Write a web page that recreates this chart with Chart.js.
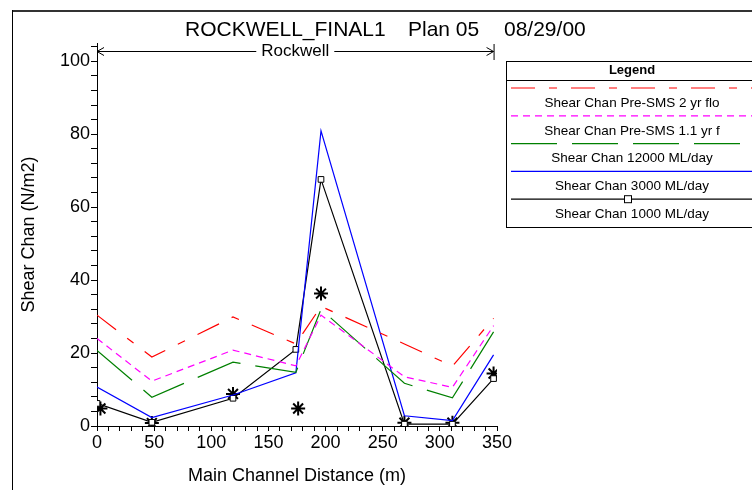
<!DOCTYPE html>
<html>
<head>
<meta charset="utf-8">
<script src="https://cdn.jsdelivr.net/npm/chart.js@4"></script>
<style>
  body { margin: 0; background: #fff; }
  canvas { display: block; }
</style>
</head>
<body>
<canvas id="myChart" width="752" height="490"></canvas>
<script>
// river stations along the main channel (m)
const stations = [0, 48, 119, 174, 196, 269, 311, 347];

const pre2yr = [30.4, 18.9, 29.9, 22.5, 32.8, 22.5, 16.4, 29.5];
const pre11yr = [24.0, 12.3, 20.8, 16.5, 30.4, 13.5, 10.6, 27.5];
const q12000 = [20.7, 7.9, 17.5, 14.7, 32.0, 11.7, 7.7, 25.8];
const q3000 = [10.7, 2.3, 8.5, 14.6, 80.9, 2.8, 1.5, 19.5];
const q1000 = [6.2, 1.0, 7.6, 21.0, 67.6, 0.5, 0.5, 13.0];

// observed points (asterisks)
const obsX = [3, 48, 119, 176, 196, 269, 311, 347];
const obsY = [4.8, 0.8, 8.8, 4.8, 36.3, 0.9, 0.9, 14.4];

const seriesLabels = ['Shear Chan Pre-SMS 2 yr flo', 'Shear Chan Pre-SMS 1.1 yr f',
    'Shear Chan 12000 ML/day', 'Shear Chan 3000 ML/day', 'Shear Chan 1000 ML/day'];
const xTickLabels = [0, 50, 100, 150, 200, 250, 300, 350];
const yTickLabels = [0, 20, 40, 60, 80, 100];

function pts(xs, ys) {
    return xs.map((x, i) => ({ x: x, y: ys[i] }));
}

const font = 'Arial, "Liberation Sans", sans-serif';

const data = {
    datasets: [
        { label: seriesLabels[0], data: pts(stations, pre2yr), borderColor: '#ff0000', borderDash: [24, 14, 8, 14] },
        { label: seriesLabels[1], data: pts(stations, pre11yr), borderColor: '#ff00ff', borderDash: [7, 5] },
        { label: seriesLabels[2], data: pts(stations, q12000), borderColor: '#008000', borderDash: [46, 15] },
        { label: seriesLabels[3], data: pts(stations, q3000), borderColor: '#0000ff' },
        { label: seriesLabels[4], data: pts(stations, q1000), borderColor: '#000000',
          pointStyle: 'rect', pointRadius: 4, pointBackgroundColor: '#fff', pointBorderColor: '#000', pointBorderWidth: 1 },
        { label: '', data: pts(obsX, obsY), showLine: false, pointStyle: 'star',
          pointRadius: 7, pointBorderColor: '#000', pointBorderWidth: 2 }
    ]
};
data.datasets.forEach(ds => {
    ds.fill = false;
    ds.tension = 0;
    ds.borderWidth = 1.2;
    if (ds.pointRadius === undefined) ds.pointRadius = 0;
});

// frame, title, reach arrow and legend box
const decor = {
    id: 'decor',
    afterDraw(chart) {
        const c = chart.ctx;
        const xs = chart.scales.x;
        c.save();
        c.strokeStyle = '#333';
        c.lineWidth = 2;
        c.beginPath();
        c.moveTo(12, 11); c.lineTo(752, 11);
        c.stroke();
        c.strokeStyle = '#000';
        c.lineWidth = 1;
        c.beginPath();
        c.moveTo(12.5, 10); c.lineTo(12.5, 490);
        c.stroke();

        c.fillStyle = '#000';
        c.font = '21px ' + font;
        c.textBaseline = 'middle';
        c.textAlign = 'left';
        c.fillText('ROCKWELL_FINAL1', 185, 30);
        c.fillText('Plan 05', 408, 30);
        c.fillText('08/29/00', 504, 30);

        // reach arrow
        const ax0 = xs.getPixelForValue(stations[0]);
        const ax1 = xs.getPixelForValue(stations[stations.length - 1]);
        const ay = 51.5;
        const mid = (ax0 + ax1) / 2;
        c.font = '17px ' + font;
        c.textAlign = 'center';
        const tw = c.measureText('Rockwell').width;
        c.fillText('Rockwell', mid, ay);
        c.beginPath();
        c.moveTo(ax0, ay); c.lineTo(mid - tw / 2 - 5, ay);
        c.moveTo(mid + tw / 2 + 5, ay); c.lineTo(ax1, ay);
        c.moveTo(ax0 + 7, ay - 4); c.lineTo(ax0, ay); c.lineTo(ax0 + 7, ay + 4);
        c.moveTo(ax1 - 7, ay - 4); c.lineTo(ax1, ay); c.lineTo(ax1 - 7, ay + 4);
        c.moveTo(ax1 + 0.5, 44); c.lineTo(ax1 + 0.5, 60);
        c.stroke();

        // legend
        const lx = 506.5, ly = 61.5, lw = 260, cx = 632;
        c.lineWidth = 1;
        c.strokeRect(lx, ly, lw, 166);
        c.beginPath();
        c.moveTo(lx, 80.5); c.lineTo(752, 80.5);
        c.stroke();
        c.font = 'bold 13px ' + font;
        c.fillText('Legend', cx, 70);
        c.font = '13.5px ' + font;
        chart.data.datasets.filter(ds => ds.label).forEach((ds, i) => {
            const y = 88 + i * 27.8;
            c.save();
            c.strokeStyle = ds.borderColor;
            c.lineWidth = 1.2;
            c.setLineDash(ds.borderDash || []);
            c.beginPath();
            c.moveTo(511, y); c.lineTo(752, y);
            c.stroke();
            c.restore();
            if (ds.pointStyle === 'rect') {
                c.fillStyle = '#fff';
                c.fillRect(624.5, y - 3.5, 7, 7);
                c.strokeRect(624.5, y - 3.5, 7, 7);
                c.fillStyle = '#000';
            }
            c.fillText(ds.label, cx, y + 15);
        });
        c.restore();
    }
};

const canvas = document.getElementById('myChart');
const ctx = canvas.getContext('2d');
new Chart(ctx, {
    type: 'line',
    data: data,
    options: {
        responsive: false,
        animation: false,
        devicePixelRatio: 1,
        layout: { padding: { left: 12, right: 255, top: 43, bottom: 0 } },
        plugins: { legend: { display: false }, tooltip: { enabled: false } },
        scales: {
            x: {
                type: 'linear', min: 0, max: 350,
                afterFit(scale) { scale.height = 64; },
                afterBuildTicks(scale) {
                    const t = [];
                    for (let v = 0; v <= 350; v += 10) t.push({ value: v });
                    scale.ticks = t;
                },
                ticks: {
                    color: '#000', font: { family: font, size: 18 }, padding: 1, maxRotation: 0,
                    autoSkip: false,
                    callback: v => xTickLabels.includes(v) ? String(v) : ''
                },
                grid: { drawOnChartArea: false, tickLength: 5, tickColor: '#000' },
                border: { color: '#000', width: 1 },
                title: { display: true, text: 'Main Channel Distance (m)', color: '#000',
                    font: { family: font, size: 18 }, padding: { top: 2, bottom: 3 } }
            },
            y: {
                min: 0, max: 105,
                afterFit(scale) { scale.width = 85; },
                afterBuildTicks(scale) {
                    const t = [];
                    for (let v = 0; v <= 104; v += 4) t.push({ value: v });
                    scale.ticks = t;
                },
                ticks: {
                    color: '#000', font: { family: font, size: 18 }, padding: 1, autoSkip: false,
                    callback: v => yTickLabels.includes(v) ? String(v) : ''
                },
                grid: { drawOnChartArea: false, tickLength: 6, tickColor: '#000' },
                border: { color: '#000', width: 1 },
                title: { display: true, text: 'Shear Chan (N/m2)', color: '#000',
                    font: { family: font, size: 18 }, padding: { top: 6, bottom: 4 } }
            }
        }
    },
    plugins: [decor]
});
</script>
</body>
</html>
